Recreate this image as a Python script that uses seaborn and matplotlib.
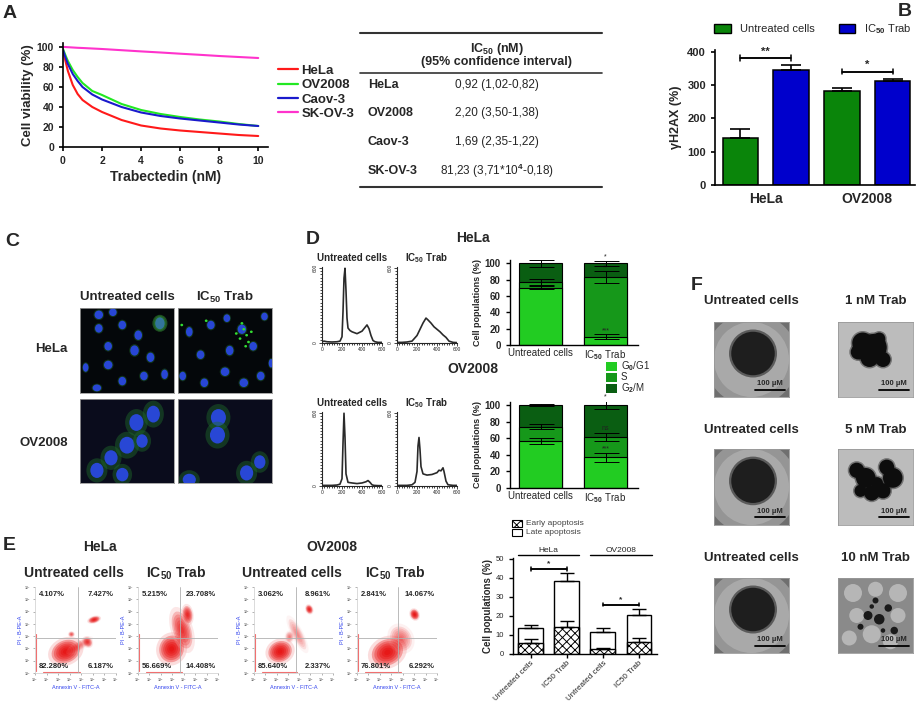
import numpy as np
import pandas as pd

import matplotlib
matplotlib.use("Agg")

import matplotlib.pyplot as plt
import seaborn as sns
from matplotlib.patches import Ellipse, Circle, Rectangle, Patch
from matplotlib.lines import Line2D
from matplotlib.ticker import MultipleLocator


sns.set_style("ticks")
plt.rcParams["font.family"] = ["Liberation Sans", "DejaVu Sans"]
plt.rcParams["font.weight"] = "bold"
plt.rcParams["axes.labelweight"] = "bold"
plt.rcParams["mathtext.fontset"] = "custom"
plt.rcParams["mathtext.rm"] = "Liberation Sans"
plt.rcParams["mathtext.it"] = "Liberation Sans:italic"
plt.rcParams["mathtext.bf"] = "Liberation Sans:bold"
plt.rcParams["hatch.linewidth"] = 0.7

# ---------------- data ----------------
# A: dose-response curves
dose_nm = [0, 0.1, 0.25, 0.5, 0.75, 1, 1.5, 2, 3, 4, 5, 6, 7, 8, 9, 10]
via_hela = [96, 88, 76, 62, 53, 47, 40, 35, 27, 21.5, 18.5, 16.5, 15, 13.5, 12, 11]
via_ov2008 = [98, 93, 86, 77, 70, 64, 56, 52, 43, 37, 33, 30, 27.5, 25.5, 23, 21]
via_caov3 = [97, 91, 83, 73, 66, 60, 52.5, 47.5, 40, 34.5, 31, 28.5, 26.5, 24.5, 22.5, 21]
via_skov3 = [100, 100, 99.8, 99.5, 99.2, 99, 98.5, 98, 96.8, 95.6, 94.5, 93.3, 92.2, 91, 90, 89]
cell_lines = ["HeLa", "OV2008", "Caov-3", "SK-OV-3"]
line_colors = {"HeLa": "#ff1a1a", "OV2008": "#22e822", "Caov-3": "#1a1acc", "SK-OV-3": "#ff33cc"}

ic50_values = ["0,92 (1,02-0,82)", "2,20 (3,50-1,38)", "1,69 (2,35-1,22)",
               "81,23 (3,71*10$^{4}$-0,18)"]

# B: gamma-H2AX
h2ax_cells = ["HeLa", "OV2008"]
h2ax_untreated = [140, 282]
h2ax_untreated_err = [28, 11]
h2ax_ic50 = [347, 313]
h2ax_ic50_err = [13, 6]
h2ax_sig = ["**", "*"]

# D: cell-cycle histograms (DNA content vs counts)
hist_hela_unt_x = [0, 20, 50, 100, 150, 180, 200, 210, 220, 230, 240, 250, 260, 280, 300, 350, 400, 430, 450, 470, 490, 510, 530, 560, 600]
hist_hela_unt_y = [10, 15, 10, 8, 10, 15, 50, 250, 520, 600, 420, 200, 120, 100, 90, 75, 95, 125, 145, 115, 60, 20, 10, 5, 5]
hist_hela_trab_x = [0, 50, 100, 150, 200, 230, 260, 290, 310, 340, 370, 400, 430, 460, 490, 520, 560, 600]
hist_hela_trab_y = [5, 5, 8, 15, 60, 110, 160, 200, 185, 160, 130, 110, 90, 65, 45, 15, 5, 3]
hist_ov_unt_x = [0, 50, 100, 150, 180, 200, 210, 220, 230, 240, 260, 300, 350, 400, 440, 460, 480, 500, 520, 560, 600]
hist_ov_unt_y = [5, 5, 5, 8, 15, 60, 350, 600, 400, 100, 30, 25, 20, 25, 35, 45, 30, 10, 5, 3, 3]
hist_ov_trab_x = [0, 50, 100, 150, 180, 200, 210, 220, 230, 240, 260, 300, 350, 400, 420, 440, 460, 470, 490, 510, 560, 600]
hist_ov_trab_y = [5, 5, 5, 10, 30, 120, 330, 400, 300, 160, 100, 90, 95, 110, 130, 125, 150, 120, 40, 10, 5, 5]

# D: cell-cycle populations (untreated, IC50 Trab)
cycle_conditions = ["Untreated cells", "IC$_{50}$ Trab"]
hela_g0g1 = [70, 10]
hela_s = [7, 73]
hela_g2m = [23, 17]
hela_cycle_err = [[2, 3], [4, 7], [4, 3]]
hela_cycle_sig = [["", "***"], ["", "**"], ["", "*"]]
ov_g0g1 = [57, 37]
ov_s = [17, 25]
ov_g2m = [26, 38]
ov_cycle_err = [[4, 5], [3, 5], [1, 5]]
ov_cycle_sig = [["", "***"], ["", "ns"], ["", "*"]]

# E: annexin V quadrants (UL, UR, LL, LR)
flow_titles = ["Untreated cells", r"IC$_{\mathbf{50}}$ Trab", "Untreated cells", r"IC$_{\mathbf{50}}$ Trab"]
flow_quadrants = [["4.107%", "7.427%", "82.280%", "6.187%"],
                  ["5.215%", "23.708%", "56.669%", "14.408%"],
                  ["3.062%", "8.961%", "85.640%", "2.337%"],
                  ["2.841%", "14.067%", "76.801%", "6.292%"]]
flow_gate_x = [0.53, 0.525, 0.53, 0.51]
flow_gate_y = 0.41
flow_tick_labels = ["10$^{0}$", "10$^{1}$", "10$^{2}$", "10$^{3}$", "10$^{4}$", "10$^{5}$", "10$^{6}$", "10$^{7}$"]
# density clouds: centre x, centre y, width, height, angle, strength
flow_clouds = [
    [(0.38, 0.25, 0.36, 0.26, 20, 1.0), (0.65, 0.36, 0.10, 0.12, 40, 0.7), (0.45, 0.45, 0.07, 0.06, 0, 0.5),
     (0.73, 0.62, 0.14, 0.07, 15, 0.9), (0.55, 0.32, 0.30, 0.10, 30, 0.3)],
    [(0.42, 0.28, 0.32, 0.30, 45, 1.0), (0.55, 0.50, 0.22, 0.45, 20, 0.7), (0.62, 0.68, 0.12, 0.20, 10, 0.8)],
    [(0.33, 0.25, 0.30, 0.24, 15, 1.0), (0.70, 0.74, 0.08, 0.10, 30, 0.9), (0.55, 0.45, 0.12, 0.40, 30, 0.3),
     (0.45, 0.42, 0.10, 0.12, 0, 0.35)],
    [(0.38, 0.24, 0.40, 0.30, 20, 1.0), (0.72, 0.68, 0.10, 0.12, 30, 1.0), (0.55, 0.40, 0.25, 0.30, 40, 0.4)],
]

# E: apoptosis bars
apop_keys = ["hela_unt", "hela_trab", "ov_unt", "ov_trab"]
apop_labels = ["Untreated cells", "IC50 Trab", "Untreated cells", "IC50 Trab"]
apop_early = [5.8, 14.4, 2.4, 6.3]
apop_early_err = [2.0, 3.0, 0.7, 2.0]
apop_total = [13.9, 38.2, 11.5, 20.5]
apop_total_err = [1.5, 4.3, 2.4, 3.3]

# C: immunofluorescence nuclei (x, y, w, h) in image fraction
nuclei_hela_unt = [(0.2, 0.92, 0.09, 0.1), (0.35, 0.95, 0.08, 0.09), (0.2, 0.76, 0.08, 0.1), (0.45, 0.8, 0.08, 0.1),
                   (0.62, 0.68, 0.08, 0.11), (0.85, 0.82, 0.1, 0.14), (0.3, 0.55, 0.08, 0.1), (0.58, 0.5, 0.09, 0.12),
                   (0.75, 0.42, 0.08, 0.11), (0.3, 0.33, 0.09, 0.1), (0.06, 0.3, 0.06, 0.1), (0.45, 0.14, 0.08, 0.1),
                   (0.68, 0.2, 0.08, 0.1), (0.9, 0.22, 0.07, 0.11), (0.18, 0.06, 0.09, 0.08)]
nuclei_hela_trab = [(0.12, 0.72, 0.07, 0.11), (0.35, 0.8, 0.08, 0.1), (0.52, 0.88, 0.07, 0.09), (0.68, 0.75, 0.09, 0.11),
                    (0.92, 0.9, 0.07, 0.09), (0.24, 0.45, 0.08, 0.1), (0.55, 0.5, 0.08, 0.11), (0.8, 0.55, 0.08, 0.1),
                    (0.5, 0.25, 0.09, 0.1), (0.28, 0.12, 0.08, 0.1), (0.7, 0.12, 0.09, 0.1), (0.88, 0.2, 0.08, 0.1),
                    (0.99, 0.35, 0.05, 0.1), (0.05, 0.2, 0.07, 0.1)]
nuclei_ov_unt = [(0.78, 0.82, 0.14, 0.2), (0.6, 0.72, 0.15, 0.2), (0.5, 0.45, 0.16, 0.2), (0.33, 0.3, 0.14, 0.18),
                 (0.18, 0.15, 0.14, 0.18), (0.45, 0.1, 0.13, 0.16), (0.66, 0.5, 0.12, 0.16)]
nuclei_ov_trab = [(0.43, 0.78, 0.16, 0.2), (0.42, 0.57, 0.16, 0.2), (0.73, 0.12, 0.14, 0.18), (0.87, 0.25, 0.12, 0.16),
                  (0.12, 0.04, 0.14, 0.14)]
green_dots_trab = [(0.68, 0.82), (0.7, 0.75), (0.73, 0.68), (0.66, 0.64), (0.75, 0.6), (0.62, 0.7), (0.78, 0.72),
                   (0.72, 0.55), (0.04, 0.8), (0.3, 0.85)]

# F: spheroids (x, y, r) in image fraction
blob_1nm = [(0.33, 0.72, 0.14), (0.47, 0.66, 0.18), (0.42, 0.52, 0.12), (0.6, 0.5, 0.1), (0.27, 0.6, 0.1), (0.55, 0.78, 0.08)]
blob_5nm = [(0.25, 0.72, 0.1), (0.37, 0.62, 0.13), (0.45, 0.42, 0.1), (0.6, 0.45, 0.1), (0.73, 0.62, 0.13),
            (0.65, 0.76, 0.1), (0.3, 0.45, 0.08), (0.52, 0.55, 0.08)]
spots_10nm = [(0.4, 0.5, 0.06), (0.55, 0.45, 0.07), (0.67, 0.6, 0.05), (0.5, 0.7, 0.04), (0.3, 0.35, 0.04),
              (0.75, 0.3, 0.05), (0.45, 0.62, 0.03), (0.6, 0.3, 0.03)]
light_10nm = [(0.2, 0.8, 0.12), (0.5, 0.85, 0.1), (0.8, 0.8, 0.12), (0.25, 0.5, 0.1), (0.8, 0.5, 0.1),
              (0.45, 0.25, 0.12), (0.15, 0.2, 0.1), (0.7, 0.15, 0.1)]

W, H = 920, 708
fig = plt.figure(figsize=(9.2, 7.08), dpi=100)


def box(x0, y0, x1, y1):
    return fig.add_axes([x0 / W, 1 - y1 / H, (x1 - x0) / W, (y1 - y0) / H])


def style_axis(ax, lw=1.2, size=7.5):
    sns.despine(ax=ax)
    for sp in ax.spines.values():
        sp.set_linewidth(lw)
        sp.set_color("black")
    ax.tick_params(labelsize=size, width=lw, length=3, color="black")
    for lab in ax.get_xticklabels() + ax.get_yticklabels():
        lab.set_fontweight("bold")


def image_axis(ax, face):
    ax.set_xlim(0, 1)
    ax.set_ylim(0, 1)
    ax.set_xticks([])
    ax.set_yticks([])
    ax.set_facecolor(face)
    for sp in ax.spines.values():
        sp.set_color("#999999")
        sp.set_linewidth(0.6)


def up_err(ax, xs, tops, errs, cap=6, lw=1.2):
    for cx, t, e in zip(xs, tops, errs):
        ax.errorbar(cx, t, yerr=[[0], [e]], fmt="none", ecolor="black",
                    elinewidth=lw, capsize=cap, capthick=lw, zorder=6)


def bracket(ax, x0, x1, y, tick, label, size=8):
    ax.plot([x0, x0, x1, x1], [y - tick, y, y, y - tick], color="black", lw=1.1, clip_on=False)
    ax.plot([x0, x0, x1, x1], [y + tick, y, y, y + tick], color="black", lw=1.1, clip_on=False)
    ax.text((x0 + x1) / 2, y + tick * 0.6, label, ha="center", va="bottom", fontsize=size)


# ---------------- canvas for free text ----------------
cv = fig.add_axes([0, 0, 1, 1])
cv.set_xlim(0, W)
cv.set_ylim(H, 0)
cv.axis("off")
cv.set_zorder(10)

for lab, (lx, ly) in zip("ABCDEF", [(10, 13), (905, 12), (12, 242), (313, 240), (9, 545), (697, 285)]):
    cv.text(lx, ly, lab, fontsize=14, ha="center", va="center")

# ---------------- A ----------------
rows = []
for name, vals in zip(cell_lines, [via_hela, via_ov2008, via_caov3, via_skov3]):
    for d, v in zip(dose_nm, vals):
        rows.append({"dose": d, "viability": v, "line": name})
df_a = pd.DataFrame(rows)

ax = box(63, 43, 268, 147)
sns.lineplot(data=df_a, x="dose", y="viability", hue="line", palette=line_colors,
             lw=1.5, legend=False, estimator=None, ax=ax)
ax.set_xlim(0, 10.5)
ax.set_ylim(0, 104)
ax.set_xticks([0, 2, 4, 6, 8, 10])
ax.set_yticks([0, 20, 40, 60, 80, 100])
ax.set_xlabel("Trabectedin (nM)", fontsize=10, labelpad=3)
ax.set_ylabel("Cell viability (%)", fontsize=9.5, labelpad=2)
style_axis(ax)
handles = [Line2D([], [], color=line_colors[n], lw=1.6) for n in cell_lines]
fig.legend(handles, cell_lines, loc="upper left", bbox_to_anchor=(266 / W, 1 - 53 / H),
           frameon=False, handlelength=1.5, handletextpad=0.3, labelspacing=0.15,
           prop={"size": 9.5, "weight": "bold"})

# table
for y, lw in [(33, 1.5), (73, 1.2), (187, 1.5)]:
    cv.plot([360, 602], [y, y], color="#333333", lw=lw)
cv.text(497, 49, r"IC$_{50}$ (nM)", ha="center", va="center", fontsize=9)
cv.text(497, 62, "(95% confidence interval)", ha="center", va="center", fontsize=9)
for name, val, y in zip(cell_lines, ic50_values, [85, 113, 142, 171]):
    cv.text(368, y, name, ha="left", va="center", fontsize=9)
    cv.text(497, y, val, ha="center", va="center", fontsize=8.5, fontweight="normal")

# ---------------- B ----------------
df_b = pd.DataFrame({
    "cell": h2ax_cells * 2,
    "value": h2ax_untreated + h2ax_ic50,
    "treat": ["Untreated cells"] * 2 + ["IC50 Trab"] * 2,
})
b_colors = ["#0a850a", "#0000cc"]
ax = box(715, 50, 915, 185)
sns.barplot(data=df_b, x="cell", y="value", hue="treat", palette=b_colors, saturation=1,
            width=1.0, gap=0.3, edgecolor="black", linewidth=1.1, errorbar=None, legend=False, ax=ax)
bars = sorted(ax.patches, key=lambda p: p.get_x())
centers = [p.get_x() + p.get_width() / 2 for p in bars]
tops = [p.get_height() for p in bars]
errs = [h2ax_untreated_err[0], h2ax_ic50_err[0], h2ax_untreated_err[1], h2ax_ic50_err[1]]
up_err(ax, centers, tops, errs, cap=7)
ax.set_xlim(-0.5, 1.47)
ax.set_ylim(0, 406)
ax.set_yticks([0, 100, 200, 300, 400])
ax.set_xlabel("")
ax.set_ylabel("γH2AX (%)", fontsize=9, labelpad=4)
style_axis(ax, size=8)
ax.tick_params(axis="x", length=0, labelsize=10, pad=5)
for i, sig in enumerate(h2ax_sig):
    y_br = max(tops[2 * i] + errs[2 * i], tops[2 * i + 1] + errs[2 * i + 1]) + 22
    bracket(ax, centers[2 * i], centers[2 * i + 1], y_br, 8, sig, size=8)
fig.legend([Patch(fc=b_colors[0], ec="black"), Patch(fc=b_colors[1], ec="black")],
           ["Untreated cells", r"IC$_{50}$ Trab"], loc="center", bbox_to_anchor=(813 / W, 1 - 29 / H),
           ncol=2, frameon=False, handlelength=1.5, handleheight=0.9, columnspacing=2.2,
           prop={"size": 8, "weight": "normal"})

# ---------------- C ----------------
cv.text(127, 297, "Untreated cells", ha="center", va="center", fontsize=9.5)
cv.text(225, 297, r"IC$_{\mathbf{50}}$ Trab", ha="center", va="center", fontsize=9.5)
cv.text(68, 349, "HeLa", ha="right", va="center", fontsize=9.5)
cv.text(68, 443, "OV2008", ha="right", va="center", fontsize=9.5)
c_boxes = [(80, 308, 174, 393), (178, 308, 272, 393), (80, 399, 174, 483), (178, 399, 272, 483)]
c_nuclei = [nuclei_hela_unt, nuclei_hela_trab, nuclei_ov_unt, nuclei_ov_trab]
c_faces = ["#04070a", "#04070a", "#0a0c1c", "#0a0c1c"]
for i, (bx, nuc, face) in enumerate(zip(c_boxes, c_nuclei, c_faces)):
    ax = box(*bx)
    image_axis(ax, face)
    halo = 1.6 if i >= 2 else 1.25
    for (x, y, w, h) in nuc:
        ax.add_patch(Ellipse((x, y), w * halo, h * halo, color="#1f6b2a", alpha=0.45, lw=0))
        ax.add_patch(Ellipse((x, y), w, h, color="#2a48e0", alpha=0.95, lw=0))
    if i == 1:
        for (x, y) in green_dots_trab:
            ax.add_patch(Circle((x, y), 0.015, color="#33dd33", lw=0))
    if i == 0:
        ax.add_patch(Ellipse((0.85, 0.82), 0.16, 0.2, color="#44bb44", alpha=0.4, lw=0))

# ---------------- D ----------------
cv.text(473, 238, "HeLa", ha="center", va="center", fontsize=10)
cv.text(473, 369, "OV2008", ha="center", va="center", fontsize=10)
hist_sets = [
    ((322, 267, 382, 343), hist_hela_unt_x, hist_hela_unt_y),
    ((397, 267, 457, 343), hist_hela_trab_x, hist_hela_trab_y),
    ((322, 412, 382, 486), hist_ov_unt_x, hist_ov_unt_y),
    ((397, 412, 457, 486), hist_ov_trab_x, hist_ov_trab_y),
]
for (bx, hx, hy), tx, ty in zip(hist_sets, [352, 427, 352, 427], [258, 258, 403, 403]):
    cv.text(tx, ty, ["Untreated cells", r"IC$_{\mathbf{50}}$ Trab"][tx > 400], ha="center", va="center", fontsize=7)
    ax = box(*bx)
    sns.lineplot(x=hx, y=hy, color="#2a2a2a", lw=1.2, estimator=None, sort=False, ax=ax)
    ax.set_xlim(0, 600)
    ax.set_ylim(0, 610)
    ax.set_xticks([0, 200, 400, 600])
    ax.set_yticks([0, 600])
    ax.xaxis.set_minor_locator(MultipleLocator(25))
    ax.yaxis.set_minor_locator(MultipleLocator(25))
    sns.despine(ax=ax)
    for sp in ax.spines.values():
        sp.set_linewidth(0.8)
    ax.tick_params(which="both", width=0.6, labelsize=3.5, pad=1)
    ax.tick_params(which="major", length=2)
    ax.tick_params(which="minor", length=1.5)
    for lab in ax.get_yticklabels():
        lab.set_rotation(90)
        lab.set_va("center")
    for lab in ax.get_xticklabels() + ax.get_yticklabels():
        lab.set_fontweight("normal")

c_g0g1, c_s, c_g2m = "#22cc22", "#16981a", "#0a5e12"


def cycle_bars(ax, g0g1, s, g2m, errs, sigs):
    lower = np.array(g0g1, dtype=float)
    mid = lower + np.array(s)
    top = mid + np.array(g2m)
    for vals, col in [(top, c_g2m), (mid, c_s), (lower, c_g0g1)]:
        sns.barplot(x=cycle_conditions, y=vals, color=col, saturation=1, width=0.66,
                    edgecolor="black", linewidth=0.8, errorbar=None, ax=ax)
    for vals, e, sg in zip([lower, mid, top], errs, sigs):
        for i in range(len(vals)):
            ax.errorbar(i, vals[i], yerr=e[i], fmt="none", ecolor="black", elinewidth=0.7,
                        capsize=9, capthick=0.7, zorder=6)
            if sg[i]:
                ax.text(i, vals[i] + e[i] + 0.5, sg[i], ha="center", va="bottom", fontsize=5,
                        color="#222222", fontweight="normal")
    ax.set_xlim(-0.47, 1.5)
    ax.set_ylim(0, 104)
    ax.set_yticks([0, 20, 40, 60, 80, 100])
    ax.set_ylabel("Cell populations (%)", fontsize=6.5, labelpad=2)
    style_axis(ax, lw=1.0, size=7)
    ax.tick_params(axis="x", length=0, pad=2)
    for lab in ax.get_xticklabels():
        lab.set_fontweight("normal")
        lab.set_fontsize(7)


ax = box(510, 260, 638, 345)
cycle_bars(ax, hela_g0g1, hela_s, hela_g2m, hela_cycle_err, hela_cycle_sig)
ax = box(510, 402, 638, 488)
cycle_bars(ax, ov_g0g1, ov_s, ov_g2m, ov_cycle_err, ov_cycle_sig)
for col, lab, y in zip([c_g0g1, c_s, c_g2m], ["G$_{0}$/G1", "S", "G$_{2}$/M"], [366, 377, 388]):
    cv.add_patch(Rectangle((606, y - 4.5), 11, 9, fc=col, ec="none"))
    cv.text(621, y, lab, ha="left", va="center", fontsize=7, fontweight="normal")

# ---------------- E ----------------
cv.text(100, 547, "HeLa", ha="center", va="center", fontsize=10)
cv.text(332, 547, "OV2008", ha="center", va="center", fontsize=10)
e_boxes = [(35, 587, 116, 673), (138, 587, 218, 673), (254, 587, 333, 673), (357, 587, 437, 673)]
for k, bx in enumerate(e_boxes):
    cv.text((bx[0] + bx[2]) / 2 - 2, 573, flow_titles[k], ha="center", va="center", fontsize=10)
    ax = box(*bx)
    ax.set_xlim(0, 1)
    ax.set_ylim(0, 1)
    for (cx, cy, w, h, ang, st) in flow_clouds[k]:
        ax.add_patch(Ellipse((cx, cy), w * 1.25, h * 1.25, angle=ang, color="#f4a0a0",
                             alpha=0.35 * st, lw=0))
        for j in range(6):
            f = 1 - j * 0.16
            ax.add_patch(Ellipse((cx, cy), w * f, h * f, angle=ang, color="#e60000",
                                 alpha=0.3 * st, lw=0))
    ax.plot([0.012, 0.012], [0.02, 0.45], color="#f07070", lw=0.8)
    ax.plot([0.1, 0.55], [0.012, 0.012], color="#f07070", lw=0.8)
    ax.axvline(flow_gate_x[k], color="#b0b0b0", lw=0.6)
    ax.axhline(flow_gate_y, color="#b0b0b0", lw=0.6)
    q = flow_quadrants[k]
    ax.text(0.05, 0.95, q[0], ha="left", va="top", fontsize=5.5, transform=ax.transAxes)
    ax.text(0.97, 0.95, q[1], ha="right", va="top", fontsize=5.5, transform=ax.transAxes)
    ax.text(0.05, 0.03, q[2], ha="left", va="bottom", fontsize=5.5, transform=ax.transAxes)
    ax.text(0.97, 0.03, q[3], ha="right", va="bottom", fontsize=5.5, transform=ax.transAxes)
    ticks = np.linspace(0, 1, len(flow_tick_labels))
    ax.set_xticks(ticks)
    ax.set_xticklabels(flow_tick_labels)
    ax.set_yticks(ticks)
    ax.set_yticklabels(flow_tick_labels)
    ax.tick_params(labelsize=2.5, length=1.5, width=0.4, pad=1, colors="#777777")
    sns.despine(ax=ax)
    for sp in ax.spines.values():
        sp.set_color("#cccccc")
        sp.set_linewidth(0.5)
    ax.set_xlabel("Annexin V - FITC-A", fontsize=4, color="#3344ee", labelpad=1, fontweight="normal")
    ax.set_ylabel("PI - B-PE-A", fontsize=4, color="#3344ee", labelpad=1, fontweight="normal")

ax = box(513, 558, 657, 654)
sns.barplot(x=apop_keys, y=apop_total, color="white", saturation=1, width=0.69,
            edgecolor="black", linewidth=1.0, errorbar=None, ax=ax)
sns.barplot(x=apop_keys, y=apop_early, color="white", saturation=1, width=0.69,
            edgecolor="black", linewidth=1.0, errorbar=None, hatch="xxxx", ax=ax)
up_err(ax, range(4), apop_total, apop_total_err, cap=5, lw=1.0)
up_err(ax, range(4), apop_early, apop_early_err, cap=5, lw=1.0)
ax.set_xlim(-0.49, 3.5)
ax.set_ylim(0, 50.5)
ax.set_yticks([0, 10, 20, 30, 40, 50])
ax.set_ylabel("Cell populations (%)", fontsize=7, labelpad=2)
style_axis(ax, lw=1.0, size=5.5)
ax.set_xticks(range(4))
ax.set_xticklabels(apop_labels, rotation=45, ha="right", rotation_mode="anchor", fontsize=5.8,
                   fontweight="normal")
ax.tick_params(axis="x", pad=1)
for lab in ax.get_yticklabels():
    lab.set_fontweight("normal")
for (x0, x1), lab in zip([(-0.35, 1.35), (1.65, 3.35)], ["HeLa", "OV2008"]):
    ax.plot([x0, x1], [52, 52], color="black", lw=1.0, clip_on=False)
    ax.text((x0 + x1) / 2, 52.8, lab, ha="center", va="bottom", fontsize=6, fontweight="normal")
bracket(ax, 0, 1, 44.8, 1.0, "*", size=6)
bracket(ax, 2, 3, 26, 1.0, "*", size=6)
cv.add_patch(Rectangle((512, 520), 10, 7, fc="white", ec="black", lw=0.8, hatch="xxxx"))
cv.add_patch(Rectangle((512, 529), 10, 7, fc="white", ec="black", lw=0.8))
cv.text(526, 523.5, "Early apoptosis", ha="left", va="center", fontsize=6, fontweight="normal", color="#444444")
cv.text(526, 532.5, "Late apoptosis", ha="left", va="center", fontsize=6, fontweight="normal", color="#444444")

# ---------------- F ----------------
f_titles = ["Untreated cells", "1 nM Trab", "Untreated cells", "5 nM Trab", "Untreated cells", "10 nM Trab"]
f_cols = [(714, 789), (838, 913)]
f_rows = [(322, 397), (449, 525), (578, 653)]
f_title_y = [301, 430, 558]
for r, (y0, y1) in enumerate(f_rows):
    for c, (x0, x1) in enumerate(f_cols):
        cv.text((x0 + x1) / 2, f_title_y[r], f_titles[2 * r + c], ha="center", va="center", fontsize=9.5)
        ax = box(x0, y0, x1, y1)
        if c == 0:
            image_axis(ax, "#6f6f6f")
            ax.add_patch(Circle((0.5, 0.5), 0.62, color="#a6a6a6", alpha=0.7, lw=0))
            ax.add_patch(Circle((0.5, 0.5), 0.5, color="#b8b8b8", alpha=0.6, lw=0))
            ax.add_patch(Circle((0.52, 0.58), 0.32, color="#3a3a3a", alpha=0.7, lw=0))
            ax.add_patch(Circle((0.52, 0.58), 0.29, color="#1e1e1e", lw=0))
        elif r < 2:
            image_axis(ax, "#bcbcbc")
            blobs = blob_1nm if r == 0 else blob_5nm
            for (x, y, rr) in blobs:
                ax.add_patch(Circle((x, y), rr + 0.02, color="#444444", alpha=0.6, lw=0))
            for (x, y, rr) in blobs:
                ax.add_patch(Circle((x, y), rr, color="#0d0d0d", lw=0))
        else:
            image_axis(ax, "#8a8a8a")
            for (x, y, rr) in light_10nm:
                ax.add_patch(Circle((x, y), rr, color="#c9c9c9", alpha=0.7, lw=0))
            for (x, y, rr) in spots_10nm:
                ax.add_patch(Circle((x, y), rr, color="#1a1a1a", lw=0))
        ax.plot([0.55, 0.95], [0.1, 0.1], color="black", lw=1.3)
        ax.text(0.75, 0.13, "100 µM", ha="center", va="bottom", fontsize=5.5)

fig.savefig("out.png", dpi=100)
plt.close(fig)
